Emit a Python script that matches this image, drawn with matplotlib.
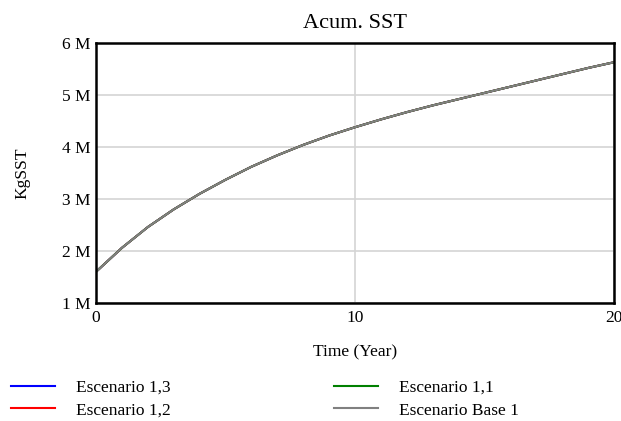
import numpy as np
import matplotlib
matplotlib.use("Agg")
import matplotlib.pyplot as plt
from matplotlib.ticker import FuncFormatter

# =========================================================
# DATA
# =========================================================

years = list(range(0, 21))

# Acum. SST (KgSST); all scenarios overlap
base_1 = [1.60e6, 2.06e6, 2.46e6, 2.80e6, 3.10e6, 3.37e6, 3.62e6, 3.84e6,
          4.04e6, 4.22e6, 4.38e6, 4.53e6, 4.67e6, 4.80e6, 4.92e6, 5.04e6,
          5.16e6, 5.28e6, 5.40e6, 5.52e6, 5.63e6]
esc_1_3 = list(base_1)
esc_1_2 = list(base_1)
esc_1_1 = list(base_1)

series_names = ["Escenario 1,3", "Escenario 1,2", "Escenario 1,1", "Escenario Base 1"]
series_colors = ["#0000ff", "#ff0000", "#008000", "#808080"]

y_ticks = [1e6, 2e6, 3e6, 4e6, 5e6, 6e6]
x_ticks = [0, 10, 20]

# =========================================================
# PLOT
# =========================================================

plt.rcParams["font.family"] = ["Liberation Serif", "DejaVu Serif"]

fig = plt.figure(figsize=(6.21, 4.21), dpi=100)
ax = fig.add_axes([96 / 621, 1 - 303 / 421, 518 / 621, 260 / 421])

handles = []
for name, color, vals in zip(series_names, series_colors,
                             [esc_1_3, esc_1_2, esc_1_1, base_1]):
    h, = ax.plot(years, vals, color=color, lw=1.5, label=name)
    handles.append(h)

ax.set_xlim(0, 20)
ax.set_ylim(1e6, 6e6)
ax.set_xticks(x_ticks)
ax.set_yticks(y_ticks)
ax.yaxis.set_major_formatter(FuncFormatter(lambda v, p: "%d M" % round(v / 1e6)))
ax.tick_params(length=0, labelsize=12.5, pad=4)
ax.tick_params(axis="x", pad=5)
ax.grid(True, color="#d4d4d4", lw=1.2)
ax.set_axisbelow(True)
for sp in ax.spines.values():
    sp.set_linewidth(1.8)
    sp.set_color("black")

ax.set_title("Acum. SST", fontsize=16, pad=11)
ax.set_xlabel("Time (Year)", fontsize=12.5, labelpad=13)
fig.text(22 / 621, 1 - 173 / 421, "KgSST", rotation=90, fontsize=12.5,
         ha="center", va="center")

fig.legend(handles=handles, labels=series_names, loc="upper left",
           bbox_to_anchor=(-5 / 621, 1 - 364 / 421), ncol=2, frameon=False,
           fontsize=12.5, handlelength=2.55, handletextpad=1.2,
           columnspacing=9.4, labelspacing=0.38)

fig.savefig("out.png", dpi=100)
